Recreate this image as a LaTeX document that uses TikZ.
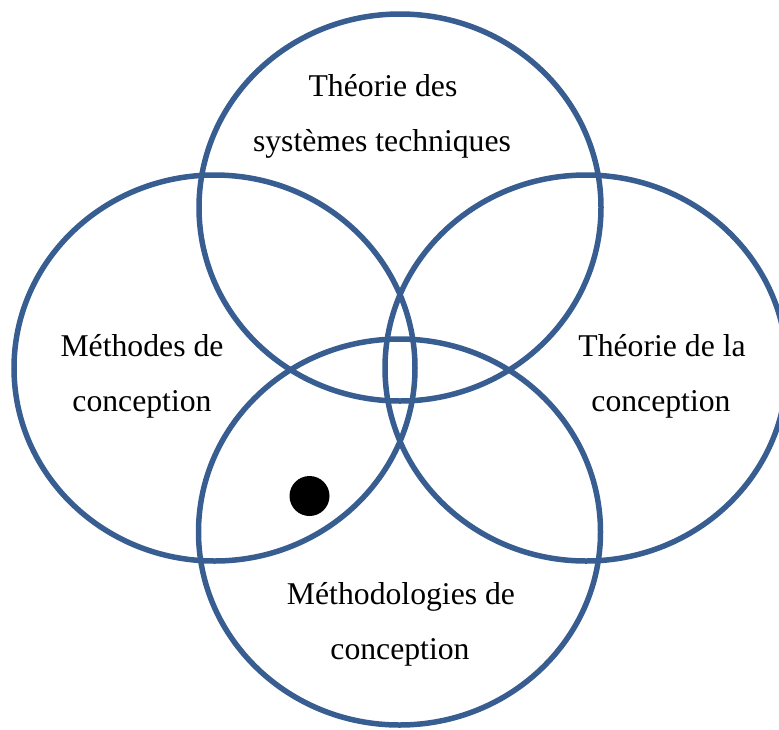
\documentclass[tikz,border=0pt]{standalone}
\usepackage{fontspec}
\setmainfont{Liberation Serif}
\definecolor{ringblue}{RGB}{56,94,145}
\begin{document}
\begin{tikzpicture}[x=1pt,y=-1pt,
  ring/.style={draw=ringblue,line width=5.5pt},
  lbl/.style={anchor=base,inner sep=0pt,font=\fontsize{31.7}{38}\selectfont}]
\useasboundingbox (0,0) rectangle (779,729);
\draw[ring] (400,207.5) ellipse [x radius=201,y radius=193.5];
\draw[ring] (214.5,368) ellipse [x radius=200.5,y radius=193];
\draw[ring] (586,368) ellipse [x radius=201,y radius=193];
\draw[ring] (399.5,532) ellipse [x radius=201,y radius=193];
\node[lbl] (t1) at (383,96) {Théorie des};
\node[lbl] (t2) at (382,151) {systèmes techniques};
\node[lbl] (l1) at (142,356) {Méthodes de};
\node[lbl] (l2) at (142,411) {conception};
\node[lbl] (r1) at (662,356) {Théorie de la};
\node[lbl] (r2) at (661,411) {conception};
\node[lbl] (b1) at (401,604) {Méthodologies de};
\node[lbl] (b2) at (400,659) {conception};
\fill[black] (309.5,496) circle [radius=20];
\end{tikzpicture}
\end{document}
